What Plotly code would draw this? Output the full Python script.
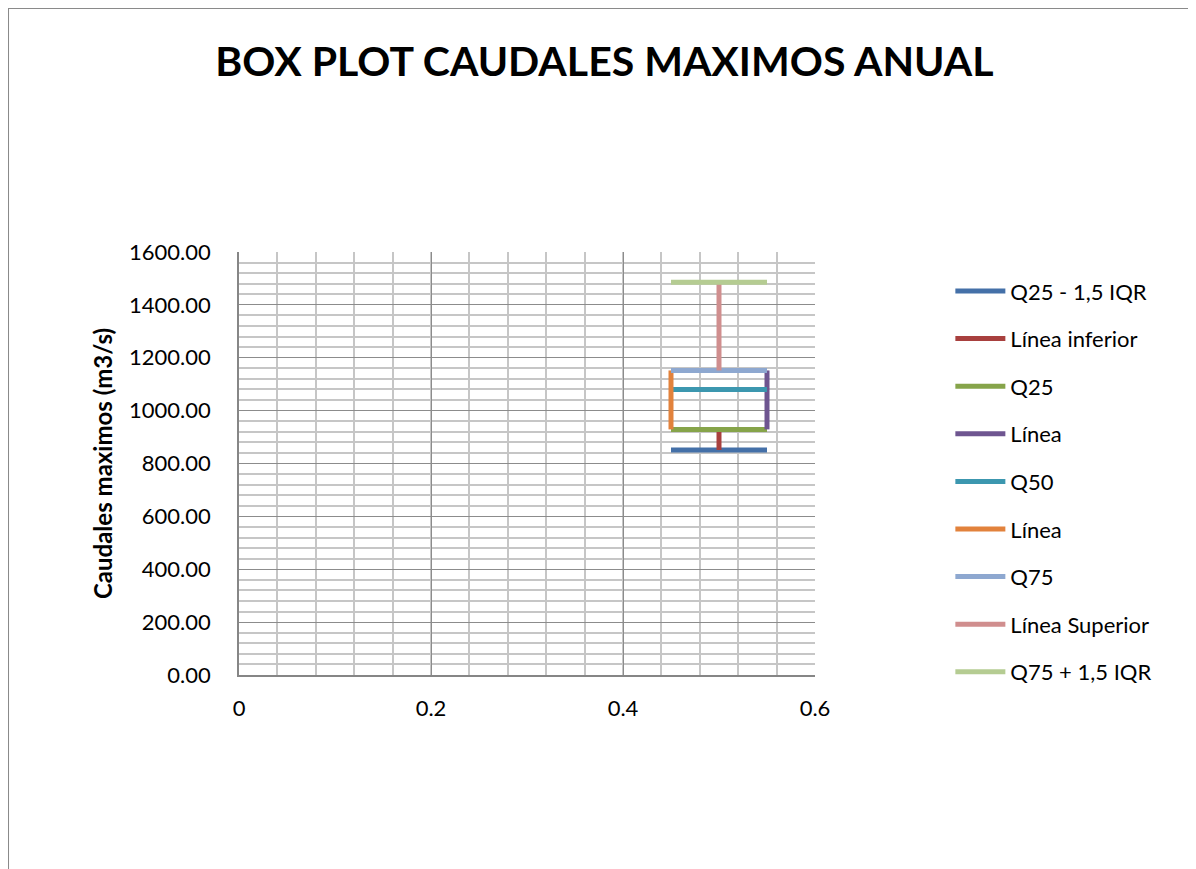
import plotly.graph_objects as go

# series: names, x pairs, y pairs
names = [
    "Q25 - 1,5 IQR", "Línea inferior", "Q25", "Línea", "Q50",
    "Línea", "Q75", "Línea Superior", "Q75 + 1,5 IQR",
]
x_vals = [
    [0.45, 0.55], [0.50, 0.50], [0.45, 0.55], [0.55, 0.55], [0.45, 0.55],
    [0.45, 0.45], [0.45, 0.55], [0.50, 0.50], [0.45, 0.55],
]
y_vals = [
    [851, 851], [851, 929], [929, 929], [929, 1152], [1080, 1080],
    [929, 1152], [1152, 1152], [1152, 1486], [1486, 1486],
]
colors = [
    "#4470A8", "#A8403E", "#86A44A", "#6E5590", "#3C97AF",
    "#E2823C", "#8EA8D0", "#D08E8E", "#B5CC92",
]

x_ticks = [0, 0.2, 0.4, 0.6]
x_tick_text = ["0", "0.2", "0.4", "0.6"]

FONT = "Lato"

fig = go.Figure()

for i, (nm, xs, ys) in enumerate(zip(names, x_vals, y_vals)):
    fig.add_trace(go.Scatter(
        x=xs, y=ys, mode="lines", name=nm,
        line=dict(color=colors[i], width=5),
        legendgroup=f"g{i}",
    ))

# page body adds an 8px margin, so the figure is 8px smaller than the window
fig.update_layout(
    width=1188, height=861,
    paper_bgcolor="white", plot_bgcolor="white",
    font=dict(family=FONT, size=22, color="black"),
    margin=dict(l=231, r=381, t=244, b=194),
    title=dict(
        text="<b>BOX PLOT CAUDALES MAXIMOS ANUAL</b>",
        x=0.502, xanchor="center", y=0.938, yanchor="middle",
        font=dict(family=FONT, size=41, color="black"),
    ),
    showlegend=True,
    legend=dict(
        x=1.235, xanchor="left", y=0.957, yanchor="top",
        font=dict(family=FONT, size=22),
        tracegroupgap=16,
        itemwidth=50,
        maxheight=800,
        bgcolor="rgba(0,0,0,0)",
    ),
    xaxis=dict(
        range=[0, 0.6], tickvals=x_ticks, ticktext=x_tick_text,
        showgrid=True, gridcolor="#8c8c8c", gridwidth=1.2,
        minor=dict(dtick=0.04, showgrid=True, gridcolor="#c6c6c6", gridwidth=1.6),
        showline=True, linecolor="#868686", linewidth=1.5,
        zeroline=False, ticks="", ticklabelstandoff=13,
        tickfont=dict(family=FONT, size=22),
    ),
    yaxis=dict(
        range=[0, 1600], dtick=200, tickformat=".2f",
        showgrid=True, gridcolor="#8c8c8c", gridwidth=1.2,
        minor=dict(dtick=40, showgrid=True, gridcolor="#c6c6c6", gridwidth=1.6),
        showline=True, linecolor="#868686", linewidth=1.5,
        zeroline=False, ticks="", ticklabelstandoff=22,
        tickfont=dict(family=FONT, size=22),
        title=dict(text="<b>Caudales maximos (m3/s)</b>", standoff=10,
                   font=dict(family=FONT, size=24)),
    ),
    shapes=[dict(
        type="rect", xref="paper", yref="paper",
        x0=-0.401, x1=1.660, y0=-0.6, y1=1.577,
        line=dict(color="#8a8a8a", width=2), fillcolor="rgba(0,0,0,0)",
        layer="below",
    )],
)

fig.write_html("out.html")
